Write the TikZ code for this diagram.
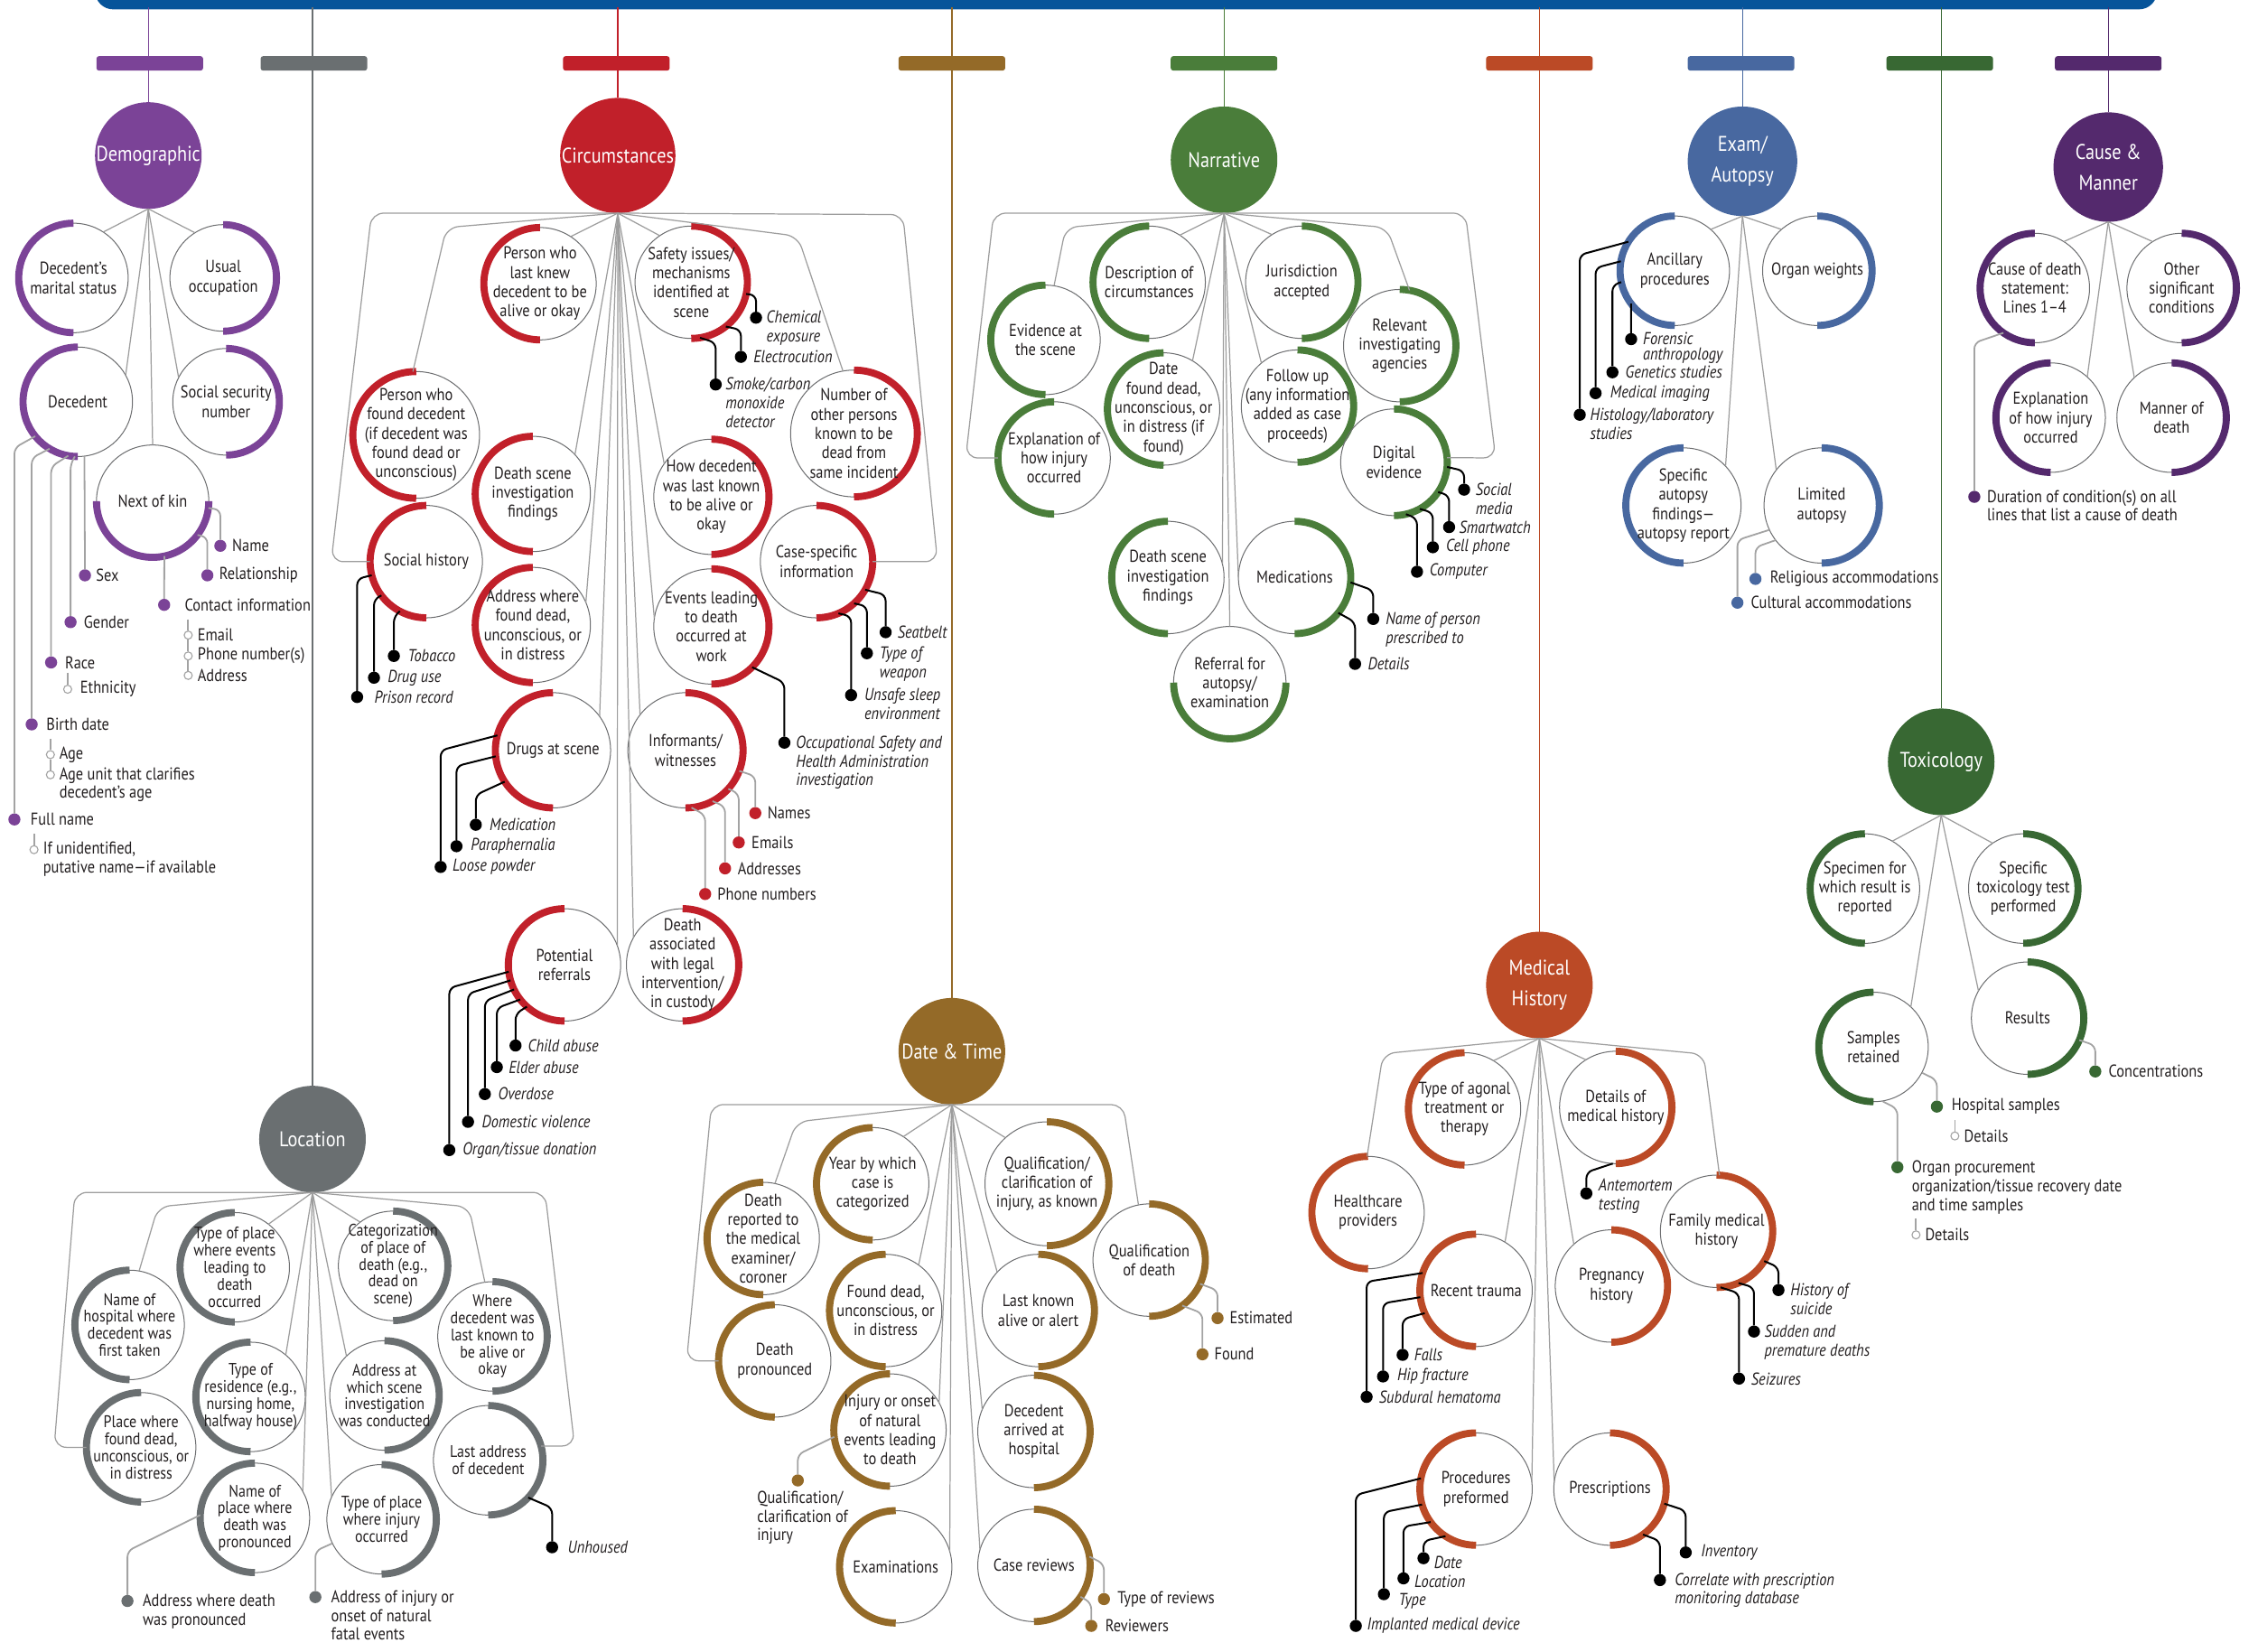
\documentclass[tikz,border=0pt]{standalone}
\usepackage{fontspec}
\setmainfont{PT Sans}[FakeStretch=0.86]
\definecolor{demo}{HTML}{7B4397}
\definecolor{loc}{HTML}{6A6F71}
\definecolor{circ}{HTML}{C1202A}
\definecolor{date}{HTML}{946A28}
\definecolor{narr}{HTML}{4A7D3A}
\definecolor{med}{HTML}{BB4A26}
\definecolor{exam}{HTML}{4868A0}
\definecolor{tox}{HTML}{386833}
\definecolor{cause}{HTML}{54296D}
\definecolor{barc}{HTML}{06549A}
\definecolor{conng}{HTML}{9D9D9D}
\definecolor{leadg}{HTML}{A3A3A3}
\definecolor{outl}{HTML}{6D6E70}
\definecolor{txtc}{HTML}{231F20}
\newcommand{\SubFont}{\fontsize{8.5}{9.5}\selectfont}
\newcommand{\LabFont}{\fontsize{8.5}{9.3}\selectfont}
\newcommand{\subL}[6]{%
  \node[subc, minimum size={#4*0.05cm}] (#1) at (#2,#3) {};
  \draw[arcst, draw=#5] (#1.north) arc[start angle=90, end angle=270, radius={#4*0.025cm}];
  \node[subt] at (#1.center) {#6};}
\newcommand{\subR}[6]{%
  \node[subc, minimum size={#4*0.05cm}] (#1) at (#2,#3) {};
  \draw[arcst, draw=#5] (#1.north) arc[start angle=90, end angle=-90, radius={#4*0.025cm}];
  \node[subt] at (#1.center) {#6};}
\newcommand{\subB}[6]{%
  \node[subc, minimum size={#4*0.05cm}] (#1) at (#2,#3) {};
  \draw[arcst, draw=#5] (#1.west) arc[start angle=180, end angle=360, radius={#4*0.025cm}];
  \node[subt] at (#1.center) {#6};}
\begin{document}
\begin{tikzpicture}[x=0.025cm,y=-0.025cm,
  subc/.style={circle, draw=outl, line width=0.45pt, inner sep=0pt, outer sep=0pt},
  arcst/.style={line width=3.5pt, line cap=butt},
  subt/.style={align=center, inner sep=0pt, text=txtc, font=\SubFont},
  cat/.style={circle, fill=#1, minimum size=1.85cm, inner sep=0pt, outer sep=0pt, text=white, align=center, font=\fontsize{10.5}{15}\selectfont},
  conn/.style={draw=conng, line width=0.55pt, rounded corners=6pt},
  blead/.style={draw=black, line width=0.9pt, rounded corners=3pt},
  glead/.style={draw=leadg, line width=0.8pt, rounded corners=3pt},
  dot/.style={circle, fill=#1, minimum size=0.21cm, inner sep=0pt, outer sep=0pt},
  hdot/.style={circle, draw=leadg, fill=white, line width=0.5pt, minimum size=0.14cm, inner sep=0pt},
  lab/.style={anchor=west, inner sep=0pt, text=txtc, font=\LabFont},
  labn/.style={anchor=north west, align=left, inner sep=0pt, text=txtc, font=\LabFont},
  ilab/.style={anchor=west, inner sep=0pt, text=txtc, font=\LabFont\itshape},
  ilabn/.style={anchor=north west, align=left, inner sep=0pt, text=txtc, font=\LabFont\itshape}]
\useasboundingbox (0,0) rectangle (1568,1147);
\clip (0,0) rectangle (1568,1147);
\fill[white] (0,0) rectangle (1568,1147);
% ---------- top bar ----------
\fill[barc, rounded corners=9pt] (66,-30) rectangle (1498,6.5);
% ---------- category nodes ----------
\node[cat=demo] (Dem) at (103,108) {Demographic};
\node[cat=circ, minimum size=2cm] (Cir) at (429,108) {Circumstances};
\node[cat=narr] (Nar) at (850,111) {Narrative};
\node[cat=exam, minimum size=1.9cm] (Exa) at (1210,112) {Exam/\\Autopsy};
\node[cat=cause, minimum size=1.9cm] (Cau) at (1464,116) {Cause \&\\Manner};
\node[cat=loc] (Loc) at (217,791) {Location};
\node[cat=date] (Dat) at (661,730) {Date \& Time};
\node[cat=med] (Med) at (1069,684) {Medical\\History};
\node[cat=tox] (Tox) at (1348,529) {Toxicology};
\foreach \nn/\cc in {Dem/demo,Cir/circ,Nar/narr,Exa/exam,Cau/cause,Loc/loc,Dat/date,Med/med,Tox/tox}
  \draw[\cc, line width=0.6pt] (\nn.north) -- (\nn.north |- 0,5);
\foreach \x/\cc in {104/demo,218/loc,428/circ,661/date,850/narr,1069/med,1209/exam,1347/tox,1464/cause}
  \fill[\cc, rounded corners=1.2pt] (\x-37,39) rectangle (\x+37,49);

% ================= DEMOGRAPHIC =================
\subL{D1}{51}{193}{38}{demo}{Decedent's\\marital status}
\subR{D2}{155}{193}{37}{demo}{Usual\\occupation}
\subL{D3}{54}{279}{38}{demo}{Decedent}
\subR{D4}{157}{279}{37}{demo}{Social security\\number}
\subB{D5}{106}{348}{39}{demo}{Next of kin}
\draw[conn] (Dem.south) -- (D1.57);
\draw[conn] (Dem.south) -- (D2.122);
\draw[conn] (Dem.south) -- (D3.29);
\draw[conn] (Dem.south) -- (D4.153);
\draw[conn] (Dem.south) -- (D5.90);
\node[dot=demo] (dsex) at (59,399.5) {};
\draw[glead] (D3.277) -- (dsex);
\node[lab] at (66.5,399.5) {Sex};
\node[dot=demo] (dgen) at (49,432) {};
\draw[glead] (D3.267) -- (49,322) -- (dgen);
\node[lab] at (58,432) {Gender};
\node[dot=demo] (drace) at (35.5,460) {};
\draw[glead] (D3.260) -- (35.5,324) -- (drace);
\node[lab] at (45,460) {Race};
\coordinate (ceth) at (47,467);
\node[hdot] (heth) at (47,478.6) {};
\draw[glead] (ceth) -- (heth);
\node[lab] at (55.5,478.6) {Ethnicity};
\node[dot=demo] (dbd) at (22,503) {};
\draw[glead] (D3.239) -- (22,318) -- (dbd);
\node[lab] at (32,503) {Birth date};
\coordinate (cage) at (35,513);
\node[hdot] (hage) at (35,524) {};
\node[hdot] (hageu) at (35,538) {};
\draw[glead] (cage) -- (hage) -- (hageu);
\node[lab] at (41,524) {Age};
\node[labn] at (41,532.5) {Age unit that clarifies\\decedent's age};
\node[dot=demo] (dfn) at (10,569) {};
\draw[glead] (D3.219) -- (10,311) -- (dfn);
\node[lab] at (21,569) {Full name};
\coordinate (cfn) at (23.6,579);
\node[hdot] (hfn) at (23.6,590) {};
\draw[glead] (cfn) -- (hfn);
\node[labn] at (29.7,584.5) {If unidentified,\\putative name—if available};
\node[dot=demo] (dname) at (153,379) {};
\draw[glead] (D5.-7) -- (153,354) -- (dname);
\node[lab] at (161,379) {Name};
\node[dot=demo] (drel) at (144,399.5) {};
\draw[glead] (D5.-37) -- (144,373) -- (drel);
\node[lab] at (152,399.5) {Relationship};
\node[dot=demo] (dcon) at (114,420) {};
\draw[glead] (D5.-78) -- (dcon);
\node[lab] at (128,420) {Contact information};
\coordinate (ccon) at (130.7,430);
\node[hdot] (hem) at (130.7,441) {};
\node[hdot] (hph) at (130.7,455.5) {};
\node[hdot] (had) at (130.7,469) {};
\draw[glead] (ccon) -- (hem) -- (hph) -- (had);
\node[lab] at (137,441) {Email};
\node[lab] at (137,455.5) {Phone number(s)};
\node[lab] at (137,469) {Address};

% ================= CIRCUMSTANCES =================
\subL{C1}{375}{197}{39}{circ}{Person who\\last knew\\decedent to be\\alive or okay}
\subR{C2}{480}{196}{39}{circ}{Safety issues/\\mechanisms\\identified at\\scene}
\subL{C3}{289}{302}{44}{circ}{Person who\\found decedent\\(if decedent was\\found dead or\\unconscious)}
\subL{C4}{370}{343}{40}{circ}{Death scene\\investigation\\findings}
\subR{C5}{494}{345}{40}{circ}{How decedent\\was last known\\to be alive or\\okay}
\subR{C6}{593}{301}{44}{circ}{Number of\\other persons\\known to be\\dead from\\same incident}
\subL{C7}{296}{390}{39}{circ}{Social history}
\subL{C8}{370}{434}{40}{circ}{Address where\\found dead,\\unconscious, or\\in distress}
\subR{C9}{494}{435}{40}{circ}{Events leading\\to death\\occurred at\\work}
\subR{C10}{567}{390}{39}{circ}{Case-specific\\information}
\subL{C11}{384}{521}{40}{circ}{Drugs at scene}
\subR{C12}{476}{521}{40}{circ}{Informants/\\witnesses}
\subL{C13}{392}{670}{39}{circ}{Potential\\referrals}
\subR{C14}{474}{670}{39}{circ}{Death\\associated\\with legal\\intervention/\\in custody}
\foreach \nn/\aa in {C1/57,C2/124,C4/43,C5/145,C8/23,C9/172,C11/36,C12/142,C13/20,C14/151}
  \draw[conn] (Cir.south) -- (\nn.\aa);
\draw[conn] (Cir.south) -- (258,148) -- (230,390) -- (C7.west);
\draw[conn] (Cir.south) -- (310,158) -- (C3.93);
\draw[conn] (Cir.south) -- (627,149) -- (651,390) -- (C10.east);
\draw[conn] (Cir.south) -- (554,164) -- (C6.100);
% Safety
\node[dot=black] (cd1) at (525,220.6) {};
\draw[blead] (C2.-12) -- (525,205) -- (cd1);
\node[ilabn] at (532,215.6) {Chemical\\exposure};
\node[dot=black] (cd2) at (514.5,247.8) {};
\draw[blead] (C2.-52) -- (514.5,229) -- (cd2);
\node[ilab] at (523,247.8) {Electrocution};
\node[dot=black] (cd3) at (497,267) {};
\draw[blead] (C2.-81) -- (497,238) -- (cd3);
\node[ilabn] at (503.6,262) {Smoke/carbon\\monoxide\\detector};
% Social history
\node[dot=black] (cd4) at (273.5,455.5) {};
\draw[blead] (C7.242) -- (273.5,428) -- (cd4);
\node[ilab] at (283,455.5) {Tobacco};
\node[dot=black] (cd5) at (259.7,470.6) {};
\draw[blead] (C7.217) -- (259.7,416) -- (cd5);
\node[ilab] at (269,470.6) {Drug use};
\node[dot=black] (cd6) at (248,484) {};
\draw[blead] (C7.194) -- (248,402) -- (cd6);
\node[ilab] at (259.7,484) {Prison record};
% Events at work
\node[dot=black] (cd7) at (544.7,515.7) {};
\draw[blead] (C9.-45) -- (544.7,474) -- (cd7);
\node[ilabn] at (552.5,510.7) {Occupational Safety and\\Health Administration\\investigation};
% Case-specific
\node[dot=black] (cd8) at (615,439) {};
\draw[blead] (C10.-30) -- (615,413) -- (cd8);
\node[ilab] at (623,439) {Seatbelt};
\node[dot=black] (cd9) at (602,453.6) {};
\draw[blead] (C10.-48) -- (602,421) -- (cd9);
\node[ilabn] at (610.6,448.6) {Type of\\weapon};
\node[dot=black] (cd10) at (591,482.7) {};
\draw[blead] (C10.-67) -- (591,428) -- (cd10);
\node[ilabn] at (600,477.7) {Unsafe sleep\\environment};
% Informants
\node[dot=circ] (cd11) at (524.5,564.6) {};
\draw[glead] (C12.-21) -- (524.5,539) -- (cd11);
\node[lab] at (532.7,564.6) {Names};
\node[dot=circ] (cd12) at (513,585) {};
\draw[glead] (C12.-42) -- (513,551) -- (cd12);
\node[lab] at (521.7,585) {Emails};
\node[dot=circ] (cd13) at (503.5,603) {};
\draw[glead] (C12.-62) -- (503.5,560) -- (cd13);
\node[lab] at (512,603) {Addresses};
\node[dot=circ] (cd14) at (489.7,620.8) {};
\draw[glead] (C12.-84) -- (489.7,566) -- (cd14);
\node[lab] at (498,620.8) {Phone numbers};
% Drugs
\node[dot=black] (cd15) at (330.4,572.7) {};
\draw[blead] (C11.213) -- (330.4,552) -- (cd15);
\node[ilab] at (339.8,572.7) {Medication};
\node[dot=black] (cd16) at (317,587.6) {};
\draw[blead] (C11.186) -- (317,532) -- (cd16);
\node[ilab] at (326.8,587.6) {Paraphernalia};
\node[dot=black] (cd17) at (306,602) {};
\draw[blead] (C11.165) -- (306,521) -- (cd17);
\node[ilab] at (314,602) {Loose powder};
% Potential referrals
\node[dot=black] (cd18) at (358,726) {};
\draw[blead] (C13.228.5) -- (358,704) -- (cd18);
\node[ilab] at (366.4,726) {Child abuse};
\node[dot=black] (cd19) at (345,741) {};
\draw[blead] (C13.218) -- (345,700) -- (cd19);
\node[ilab] at (353,741) {Elder abuse};
\node[dot=black] (cd20) at (336.7,759.7) {};
\draw[blead] (C13.206.6) -- (336.7,695) -- (cd20);
\node[ilab] at (345.7,759.7) {Overdose};
\node[dot=black] (cd21) at (325,779) {};
\draw[blead] (C13.196) -- (325,690) -- (cd21);
\node[ilab] at (334.4,779) {Domestic violence};
\node[dot=black] (cd22) at (312,798.6) {};
\draw[blead] (C13.187) -- (312,686) -- (cd22);
\node[ilab] at (321,798.6) {Organ/tissue donation};

% ================= NARRATIVE =================
\subL{N1}{726}{236}{38}{narr}{Evidence at\\the scene}
\subL{N2}{798}{196}{39}{narr}{Description of\\circumstances}
\subR{N3}{904}{196}{39}{narr}{Jurisdiction\\accepted}
\subR{N4}{972}{240}{39}{narr}{Relevant\\investigating\\agencies}
\subL{N5}{732}{318}{39}{narr}{Explanation of\\how injury\\occurred}
\subL{N6}{808}{284}{39}{narr}{Date\\found dead,\\unconscious, or\\in distress (if\\found)}
\subR{N7}{901}{282}{39}{narr}{Follow up\\(any information\\added as case\\proceeds)}
\subR{N8}{968}{321}{37}{narr}{Digital\\evidence}
\subL{N9}{811}{401}{39}{narr}{Death scene\\investigation\\findings}
\subR{N10}{899}{401}{39}{narr}{Medications}
\subB{N11}{854}{474}{39}{narr}{Referral for\\autopsy/\\examination}
\foreach \nn/\aa in {N2/57,N3/122,N6/59,N7/130,N9/14,N10/180,N11/90}
  \draw[conn] (Nar.south) -- (\nn.\aa);
\draw[conn] (Nar.south) -- (690,148) -- (670.6,318) -- (N5.west);
\draw[conn] (Nar.south) -- (740,158) -- (N1.81);
\draw[conn] (Nar.south) -- (1017.6,148) -- (1038.6,318) -- (N8.5);
\draw[conn] (Nar.south) -- (963,158) -- (N4.80);
\node[dot=black] (nd1) at (1016.7,340) {};
\draw[blead] (N8.-5) -- (1016.7,327) -- (nd1);
\node[ilabn] at (1024.5,335) {Social\\media};
\node[dot=black] (nd2) at (1006.3,366) {};
\draw[blead] (N8.-34) -- (1006.3,344) -- (nd2);
\node[ilab] at (1013,366) {Smartwatch};
\node[dot=black] (nd3) at (995,380) {};
\draw[blead] (N8.-61) -- (995,356) -- (nd3);
\node[ilab] at (1004,380) {Cell phone};
\node[dot=black] (nd4) at (984,397) {};
\draw[blead] (N8.-77) -- (984,360) -- (nd4);
\node[ilab] at (992.5,397) {Computer};
\node[dot=black] (nd5) at (953.6,429.8) {};
\draw[blead] (N10.-5) -- (953.6,410) -- (nd5);
\node[ilabn] at (962,424.8) {Name of person\\prescribed to};
\node[dot=black] (nd6) at (941,461) {};
\draw[blead] (N10.-39) -- (941,432) -- (nd6);
\node[ilab] at (949.7,461) {Details};

% ================= EXAM / AUTOPSY =================
\subL{E1}{1163}{188}{38}{exam}{Ancillary\\procedures}
\subR{E2}{1262}{188}{38}{exam}{Organ weights}
\subL{E3}{1169}{351}{40}{exam}{Specific\\autopsy\\findings—\\autopsy report}
\subR{E4}{1265}{351}{40}{exam}{Limited\\autopsy}
\foreach \nn/\aa in {E1/49,E2/131,E3/43,E4/142}
  \draw[conn] (Exa.south) -- (\nn.\aa);
\node[dot=black] (ed1) at (1132.7,235.5) {};
\draw[blead] (E1.217) -- (ed1);
\node[ilabn, font=\fontsize{8.5}{7.8}\selectfont\itshape] at (1140.6,230.5) {Forensic\\anthropology};
\node[dot=black] (ed2) at (1119.7,258.5) {};
\draw[blead] (E1.192) -- (1119.7,198) -- (ed2);
\node[ilab] at (1128.5,258.5) {Genetics studies};
\node[dot=black] (ed3) at (1108,273) {};
\draw[blead] (E1.170) -- (1108,186) -- (ed3);
\node[ilab] at (1118,273) {Medical imaging};
\node[dot=black] (ed4) at (1097,288) {};
\draw[blead] (E1.148) -- (1097,177) -- (ed4);
\node[ilabn] at (1104,283) {Histology/laboratory\\studies};
\node[dot=exam] (ed5) at (1219,402) {};
\draw[glead] (E4.217) -- (1219,380) -- (ed5);
\node[lab] at (1229,402) {Religious accommodations};
\node[dot=exam] (ed6) at (1206.5,418.5) {};
\draw[glead] (E4.205) -- (1206.5,375) -- (ed6);
\node[lab] at (1215.6,418.5) {Cultural accommodations};

% ================= CAUSE & MANNER =================
\subL{M1}{1413}{200}{38}{cause}{Cause of death\\statement:\\Lines 1–4}
\subR{M2}{1515}{200}{38}{cause}{Other\\significant\\conditions}
\subL{M3}{1424}{290}{38}{cause}{Explanation\\of how injury\\occurred}
\subR{M4}{1508}{290}{38}{cause}{Manner of\\death}
\foreach \nn/\aa in {M1/58,M2/122,M3/48,M4/133}
  \draw[conn] (Cau.south) -- (\nn.\aa);
\node[dot=cause] (md1) at (1371,345) {};
\draw[glead] (M1.235) -- (1371,238) -- (md1);
\node[labn] at (1379.6,340) {Duration of condition(s) on all\\lines that list a cause of death};

% ================= TOXICOLOGY =================
\subL{T1}{1295}{617}{38}{tox}{Specimen for\\which result is\\reported}
\subR{T2}{1405}{617}{38}{tox}{Specific\\toxicology test\\performed}
\subL{T3}{1301}{727}{38}{tox}{Samples\\retained}
\subR{T4}{1408}{707}{39}{tox}{Results}
\foreach \nn/\aa in {T1/60,T2/124,T3/47,T4/151}
  \draw[conn] (Tox.south) -- (\nn.\aa);
\node[dot=tox] (td1) at (1455,744) {};
\draw[glead] (T4.-23) -- (1455,726) -- (td1);
\node[lab] at (1464,744) {Concentrations};
\node[dot=tox] (td2) at (1345,768.4) {};
\draw[glead] (T3.-28) -- (1345,750) -- (td2);
\node[lab] at (1355,768.4) {Hospital samples};
\coordinate (ctd2) at (1357.5,778);
\node[hdot] (htd2) at (1357.5,788.8) {};
\draw[glead] (ctd2) -- (htd2);
\node[lab] at (1363.7,788.8) {Details};
\node[dot=tox] (td3) at (1317.6,810.5) {};
\draw[glead] (T3.-81) -- (1317.6,770) -- (td3);
\node[labn] at (1327.4,805.5) {Organ procurement\\organization/tissue recovery date\\and time samples};
\coordinate (ctd3) at (1330.5,846);
\node[hdot] (htd3) at (1330.5,857.5) {};
\draw[glead] (ctd3) -- (htd3);
\node[lab] at (1336.6,857.5) {Details};

% ================= LOCATION =================
\begin{scope}
\renewcommand{\SubFont}{\fontsize{8.3}{8.4}\selectfont}
\subL{L1}{90}{920}{38}{loc}{Name of\\hospital where\\decedent was\\first taken}
\subL{L2}{163}{880}{38}{loc}{Type of place\\where events\\leading to\\death\\occurred}
\subR{L3}{273}{879}{38}{loc}{Categorization\\of place of\\death (e.g.,\\dead on\\scene)}
\subR{L4}{342}{928}{38}{loc}{Where\\decedent was\\last known to\\be alive or\\okay}
\subL{L5}{174}{970}{38}{loc}{Type of\\residence (e.g.,\\nursing home,\\halfway house)}
\subR{L6}{267}{969}{38}{loc}{Address at\\which scene\\investigation\\was conducted}
\subL{L7}{98}{1005}{38}{loc}{Place where\\found dead,\\unconscious, or\\in distress}
\subR{L8}{339}{1014}{38}{loc}{Last address\\of decedent}
\subL{L9}{177}{1054}{38}{loc}{Name of\\place where\\death was\\pronounced}
\subR{L10}{265}{1055}{38}{loc}{Type of place\\where injury\\occurred}
\end{scope}
\foreach \nn/\aa in {L2/52,L3/127,L5/50,L6/134,L9/29,L10/156}
  \draw[conn] (Loc.south) -- (\nn.\aa);
\draw[conn] (Loc.south) -- (52,828) -- (37.6,1005) -- (L7.west);
\draw[conn] (Loc.south) -- (109.7,838) -- (L1.80);
\draw[conn] (Loc.south) -- (378.5,828) -- (399,1004) -- (L8.15);
\draw[conn] (Loc.south) -- (325.6,838) -- (L4.98);
\node[dot=black] (ld1) at (383.4,1074.4) {};
\draw[blead] (L8.-43) -- (383.4,1047) -- (ld1);
\node[ilab] at (394,1074.4) {Unhoused};
\node[dot=loc] (ld2) at (88.5,1111.7) {};
\draw[glead] (L9.177) -- (88.5,1077) -- (ld2);
\node[labn] at (98.9,1106.7) {Address where death\\was pronounced};
\node[dot=loc] (ld3) at (219,1109) {};
\draw[glead] (L10.206) -- (219,1077) -- (ld3);
\node[labn] at (229.7,1104) {Address of injury or\\onset of natural\\fatal events};

% ================= DATE & TIME =================
\subL{Y1}{530}{860}{39}{date}{Death\\reported to\\the medical\\examiner/\\coroner}
\subL{Y2}{606}{822}{39}{date}{Year by which\\case is\\categorized}
\subR{Y3}{727}{822}{43}{date}{Qualification/\\clarification of\\injury, as known}
\subR{Y4}{798}{875}{39}{date}{Qualification\\of death}
\subL{Y5}{538}{945}{39}{date}{Death\\pronounced}
\subL{Y6}{615}{910}{39}{date}{Found dead,\\unconscious, or\\in distress}
\subR{Y7}{721}{910}{39}{date}{Last known\\alive or alert}
\subL{Y8}{618}{993}{39}{date}{Injury or onset\\of natural\\events leading\\to death}
\subR{Y9}{718}{994}{39}{date}{Decedent\\arrived at\\hospital}
\subL{Y10}{622}{1088}{39}{date}{Examinations}
\subR{Y11}{718}{1087}{39}{date}{Case reviews}
\foreach \nn/\aa in {Y2/57,Y3/132,Y6/54,Y7/137,Y8/29,Y9/157,Y10/16,Y11/164}
  \draw[conn] (Dat.south) -- (\nn.\aa);
\draw[conn] (Dat.south) -- (494,767) -- (476.8,945) -- (Y5.west);
\draw[conn] (Dat.south) -- (553,779) -- (Y1.78);
\draw[conn] (Dat.south) -- (780,767) -- (Y4.101);
\node[dot=date] (yd1) at (845.5,915.3) {};
\draw[glead] (Y4.-25) -- (845.5,896) -- (yd1);
\node[lab] at (853.7,915.3) {Estimated};
\node[dot=date] (yd2) at (835,940.4) {};
\draw[glead] (Y4.-54) -- (835,912) -- (yd2);
\node[lab] at (843,940.4) {Found};
\node[dot=date] (yd3) at (554,1028) {};
\draw[glead] (Y8.187) -- (554,1010) -- (yd3);
\node[labn] at (525.5,1035) {Qualification/\\clarification of\\injury};
\node[dot=date] (yd4) at (766.6,1110.4) {};
\draw[glead] (Y11.9) -- (766.6,1086) -- (yd4);
\node[lab] at (775.8,1110.4) {Type of reviews};
\node[dot=date] (yd5) at (757.8,1129) {};
\draw[glead] (Y11.-34) -- (757.8,1113) -- (yd5);
\node[lab] at (767.4,1129) {Reviewers};

% ================= MEDICAL HISTORY =================
\subL{H1}{1017}{770}{39}{med}{Type of agonal\\treatment or\\therapy}
\subR{H2}{1122}{769}{39}{med}{Details of\\medical history}
\subL{H3}{950}{842}{39}{med}{Healthcare\\providers}
\subL{H4}{1025}{896}{39}{med}{Recent trauma}
\subR{H5}{1119}{893}{39}{med}{Pregnancy\\history}
\subR{H6}{1192}{855}{39}{med}{Family medical\\history}
\subL{H7}{1025}{1034}{39}{med}{Procedures\\preformed}
\subR{H8}{1118}{1034}{39}{med}{Prescriptions}
\foreach \nn/\aa in {H1/59.5,H2/122,H4/59,H5/132,H7/7,H8/173}
  \draw[conn] (Med.south) -- (\nn.\aa);
\draw[conn] (Med.south) -- (960.4,731.7) -- (H3.91);
\draw[conn] (Med.south) -- (1183,732) -- (H6.87);
\node[dot=black] (hd1) at (1101.6,828.7) {};
\draw[blead] (H2.267) -- (1101.6,814) -- (hd1);
\node[ilabn] at (1109.8,818) {Antemortem\\testing};
\node[dot=black] (hd2) at (974,940.8) {};
\draw[blead] (H4.204) -- (974,916) -- (hd2);
\node[ilab] at (981.8,940.8) {Falls};
\node[dot=black] (hd3) at (960.4,955.8) {};
\draw[blead] (H4.187) -- (960.4,905) -- (hd3);
\node[ilab] at (970,955.8) {Hip fracture};
\node[dot=black] (hd4) at (949,970) {};
\draw[blead] (H4.162) -- (949,890) -- (hd4);
\node[ilab] at (957.4,970) {Subdural hematoma};
\node[dot=black] (hd5) at (1235,895.8) {};
\draw[blead] (H6.-32) -- (1235,880) -- (hd5);
\node[ilabn] at (1243,890.8) {History of\\suicide};
\node[dot=black] (hd6) at (1218,924.6) {};
\draw[blead] (H6.-67) -- (1218,894) -- (hd6);
\node[ilabn] at (1225,919.6) {Sudden and\\premature deaths};
\node[dot=black] (hd7) at (1207.6,957.3) {};
\draw[blead] (H6.-86) -- (1207.6,898) -- (hd7);
\node[ilab] at (1215.8,957.3) {Seizures};
\node[dot=black] (hd8) at (988.5,1082) {};
\draw[blead] (H7.237.5) -- (988.5,1070) -- (hd8);
\node[ilab] at (995.6,1085) {Date};
\node[dot=black] (hd9) at (974.6,1096) {};
\draw[blead] (H7.216) -- (974.6,1060) -- (hd9);
\node[ilab] at (982,1098) {Location};
\node[dot=black] (hd10) at (961,1107) {};
\draw[blead] (H7.196.5) -- (961,1050) -- (hd10);
\node[ilab] at (971,1112) {Type};
\node[dot=black] (hd11) at (941.5,1129) {};
\draw[blead] (H7.169) -- (941.5,1038) -- (hd11);
\node[ilab] at (949,1129) {Implanted medical device};
\node[dot=black] (hd12) at (1170.6,1078) {};
\draw[blead] (H8.-15.6) -- (1170.6,1049) -- (hd12);
\node[ilab] at (1181,1078) {Inventory};
\node[dot=black] (hd13) at (1152.7,1097.2) {};
\draw[blead] (H8.-54) -- (1152.7,1070) -- (hd13);
\node[ilabn] at (1162.8,1092) {Correlate with prescription\\monitoring database};
\end{tikzpicture}
\end{document}
